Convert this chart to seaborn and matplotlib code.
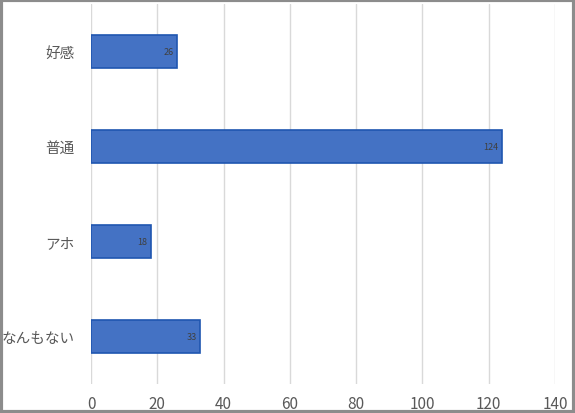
import pandas as pd
import matplotlib.pyplot as plt
import seaborn as sns
from matplotlib.patches import Rectangle

categories = ["好感", "普通", "アホ", "なんもない"]
counts = [26, 124, 18, 33]
xticks = [0, 20, 40, 60, 80, 100, 120, 140]

data = pd.DataFrame({"category": categories, "count": counts})

sns.set_style("white")
plt.rcParams['font.family'] = ['Noto Sans CJK JP', 'DejaVu Sans']

fig = plt.figure(figsize=(5.75, 4.14), dpi=100)
ax = fig.add_axes([91 / 575, 1 - 385 / 414, (555 - 91) / 575, 380 / 414])

sns.barplot(data=data, x="count", y="category", orient="h", color="#4472C4",
            width=0.35, edgecolor="#1f56b0", linewidth=1.2, saturation=1, ax=ax)

for i, v in enumerate(counts):
    ax.text(v - 1, i, str(v), ha="right", va="center", fontsize=6.5, color="#404040")

ax.set_xlim(0, 140)
ax.set_ylim(3.5, -0.5)
ax.set_xticks(xticks)
ax.grid(axis="x", color="#d9d9d9", linewidth=1)
ax.set_axisbelow(True)
ax.set_xlabel("")
ax.set_ylabel("")
for s in ax.spines.values():
    s.set_visible(False)
ax.tick_params(axis="both", length=0, colors="#595959", labelsize=11)
ax.tick_params(axis="y", pad=12, labelsize=10.5)
ax.tick_params(axis="x", pad=8)

# grey frame around the picture
fig.patches.append(Rectangle((0.002, 0.003), 0.996, 0.994, transform=fig.transFigure,
                             fill=False, edgecolor="#8c8c8c", linewidth=3))

plt.savefig("out.png", dpi=100)
